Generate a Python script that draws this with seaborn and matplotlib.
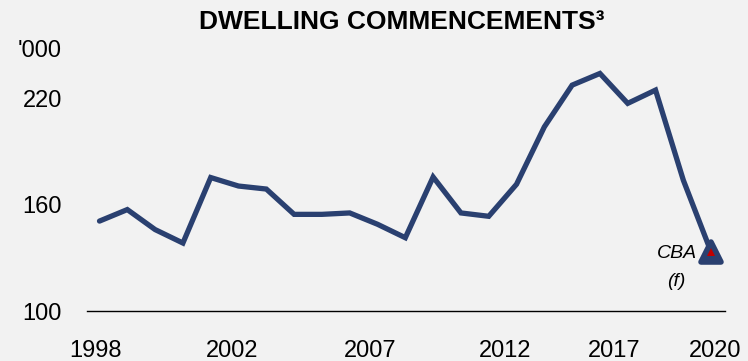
import numpy as np
import pandas as pd
import seaborn as sns
import matplotlib
matplotlib.use("Agg")
import matplotlib.pyplot as plt
from matplotlib import transforms
from matplotlib.markers import MarkerStyle

# dwelling commencements, '000
years = list(range(1998, 2021))
commencements = [150.8, 157.3, 146.0, 138.4, 175.4, 170.6, 168.9, 154.6, 154.6,
                 155.4, 149.0, 141.4, 175.7, 155.4, 153.5, 171.6, 204.0, 227.6,
                 234.2, 217.3, 224.8, 173.9, 133.3]
tick_labels = ["1998", "2002", "2007", "2012", "2017", "2020"]
y_ticks = [100, 160, 220]

navy = "#2A4070"
bg = "#F2F2F2"

sns.set_style("white")
plt.rcParams["font.family"] = ["Liberation Sans", "DejaVu Sans"]
plt.rcParams["text.color"] = "black"
plt.rcParams["xtick.color"] = "black"
plt.rcParams["ytick.color"] = "black"

df = pd.DataFrame({"year": years, "value": commencements})

fig = plt.figure(figsize=(7.48, 3.61), dpi=100, facecolor=bg)
ax = fig.add_axes([0.1163, 0.1385, 0.853, 0.7355])
ax.set_facecolor(bg)

sns.lineplot(data=df, x="year", y="value", ax=ax, color=navy, linewidth=3.8,
             solid_joinstyle="miter", solid_capstyle="round")

# forecast marker on last point
last_x, last_y = years[-1], commencements[-1]
ax.plot(last_x, last_y, linestyle="none",
        marker=MarkerStyle("^", joinstyle="round"), markersize=15,
        color=navy, markeredgewidth=4, zorder=5)
ax.plot(last_x, last_y, linestyle="none", marker="^", markersize=6,
        color="#C00000", markeredgewidth=0, zorder=6)
ax.annotate("CBA", xy=(last_x, last_y), xytext=(-10, -1), textcoords="offset points",
            ha="right", va="center", style="italic", size=14)
ax.annotate("(f)", xy=(last_x, last_y), xytext=(-25, -21), textcoords="offset points",
            ha="center", va="center", style="italic", size=14)

ax.set_xlim(1997.55, 2020.5)
ax.set_ylim(100, 250)
ax.set_yticks(y_ticks)
# label positions as laid out in the source chart
label_offsets = [-0.15, 0.76, 0.74, 0.6, -0.5, 0.14]
ax.set_xticks([int(t) + o for t, o in zip(tick_labels, label_offsets)])
ax.set_xticklabels(tick_labels)
ax.tick_params(axis="y", length=0, labelsize=17, pad=18)
ax.tick_params(axis="x", length=0, labelsize=17, pad=21)
ax.set_xlabel("")
ax.set_ylabel("")

sns.despine(ax=ax, left=True, top=True, right=True)
ax.spines["bottom"].set_color("black")
ax.spines["bottom"].set_linewidth(1.0)

blend = transforms.blended_transform_factory(ax.transAxes, ax.transData)
ax.text(0, 247, "'000", transform=blend + transforms.ScaledTranslation(-18 / 72, 0, fig.dpi_scale_trans),
        ha="right", va="center", size=17)

fig.text(0.537, 0.939, "DWELLING COMMENCEMENTS\u00b3", ha="center", va="center",
         fontsize=19, fontweight="bold")

fig.savefig("out.png", dpi=100, facecolor=bg)
